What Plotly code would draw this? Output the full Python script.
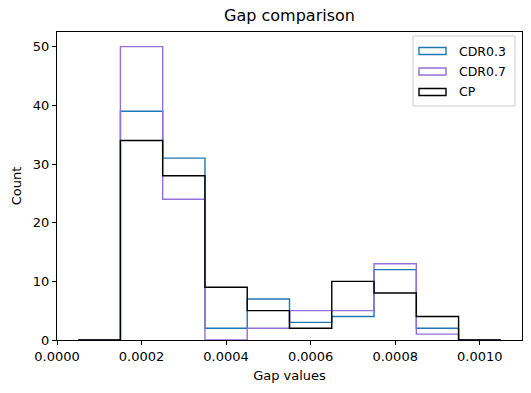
import plotly.graph_objects as go

# Data
bin_edges = [0.00005, 0.00015, 0.00025, 0.00035, 0.00045, 0.00055,
             0.00065, 0.00075, 0.00085, 0.00095, 0.00105]
cdr03 = [0, 39, 31, 2, 7, 3, 4, 12, 2, 0]
cdr07 = [0, 50, 24, 0, 2, 5, 5, 13, 1, 0]
cp = [0, 34, 28, 9, 5, 2, 10, 8, 4, 0]

series = [("CDR0.3", cdr03, "#1f77b4"),
          ("CDR0.7", cdr07, "#9370db"),
          ("CP", cp, "black")]

# plot area in pixels (531x393 figure)
L, R, T, B = 57, 9, 32, 53
W, H = 531, 393
pw, ph = W - L - R, H - T - B


def px_x(p):
    return (p - L) / pw


def px_y(p):
    return (H - B - p) / ph


fig = go.Figure()
for name, counts, color in series:
    # step outline: start at left edge on zero, end at right edge on zero
    xs = [bin_edges[0]] + bin_edges
    ys = [0] + counts + [0]
    fig.add_trace(go.Scatter(x=xs, y=ys, mode="lines", line_shape="hv",
                             line=dict(color=color, width=1.4),
                             name=name, showlegend=False, hoverinfo="skip"))

# legend drawn by hand to get matplotlib-like patches
shapes = [dict(type="rect", xref="paper", yref="paper",
               x0=px_x(413), x1=px_x(515), y0=px_y(106), y1=px_y(36),
               line=dict(color="#cccccc", width=1), fillcolor="rgba(255,255,255,0.8)")]
annotations = []
for i, (name, counts, color) in enumerate(series):
    cy = 51 + i * 20.5
    shapes.append(dict(type="rect", xref="paper", yref="paper",
                       x0=px_x(419), x1=px_x(446), y0=px_y(cy + 3.5), y1=px_y(cy - 3.5),
                       line=dict(color=color, width=1.4), fillcolor="rgba(0,0,0,0)"))
    annotations.append(dict(xref="paper", yref="paper", x=px_x(457), y=px_y(cy),
                            text=name, showarrow=False, xanchor="left", yanchor="middle",
                            font=dict(size=12.5, color="black")))

axis_common = dict(showline=True, linecolor="black", linewidth=1.2, mirror=True,
                   ticks="outside", ticklen=4, tickcolor="black", tickwidth=1,
                   showgrid=False, zeroline=False, automargin=False,
                   tickfont=dict(size=13, color="black"))

fig.update_layout(
    width=W, height=H,
    margin=dict(l=L, r=R, t=T, b=B),
    paper_bgcolor="white", plot_bgcolor="white",
    font=dict(family="DejaVu Sans", color="black"),
    title=dict(text="Gap comparison", x=0.5, xref="paper", xanchor="center",
               y=1 - 15 / H, yanchor="middle", font=dict(size=16, color="black")),
    xaxis=dict(range=[0, 0.0011], tickvals=[0, 0.0002, 0.0004, 0.0006, 0.0008, 0.0010],
               tickformat=".4f", title=dict(text="Gap values", font=dict(size=13), standoff=8),
               **axis_common),
    yaxis=dict(range=[0, 52.5], tickvals=[0, 10, 20, 30, 40, 50],
               title=dict(text="Count", font=dict(size=13), standoff=8),
               **axis_common),
    shapes=shapes,
    annotations=annotations,
    showlegend=False,
)

fig.write_html("out.html", config={"displayModeBar": False},
               post_script="document.body.style.margin='0';document.body.style.overflow='hidden';")
